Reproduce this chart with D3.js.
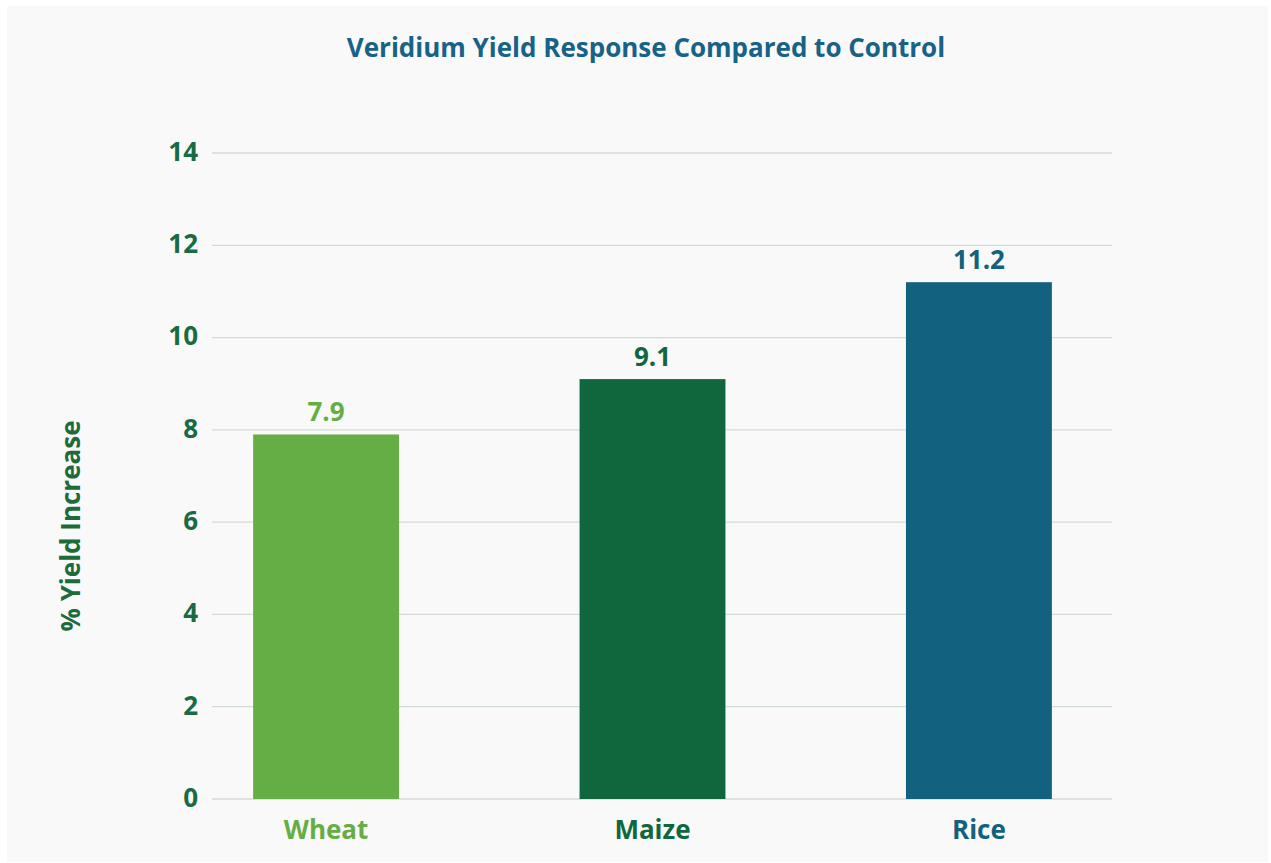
<!doctype html>
<html>
<head>
<meta charset="utf-8">
<script src="https://d3js.org/d3.v7.min.js"></script>
<style>
  body { margin: 0; background: #ffffff; }
  text { font-family: "Open Sans", Lato, sans-serif; font-weight: 700; }
</style>
</head>
<body>
<svg width="1271" height="863"></svg>
<script>
// data
var crops = ["Wheat", "Maize", "Rice"];
var yieldIncrease = [7.9, 9.1, 11.2];
var barColors = ["#64ae45", "#11673d", "#11617f"];
var yTicks = [0, 2, 4, 6, 8, 10, 12, 14];

var svg = d3.select("svg");

// light panel
svg.append("rect")
  .attr("x", 7).attr("y", 6)
  .attr("width", 1261).attr("height", 856)
  .attr("fill", "#f9f9f9");

var plotLeft = 212, plotRight = 1112, plotTop = 153, plotBottom = 799;

var x = d3.scaleBand()
  .domain(crops)
  .range([plotLeft, 1093])
  .paddingInner(0.553)
  .paddingOuter(0.126);

var y = d3.scaleLinear()
  .domain([0, 14])
  .range([plotBottom, plotTop]);

// gridlines
svg.append("g")
  .selectAll("line")
  .data(yTicks)
  .enter()
  .append("line")
  .attr("x1", plotLeft).attr("x2", plotRight)
  .attr("y1", function(d) { return y(d); })
  .attr("y2", function(d) { return y(d); })
  .attr("stroke", "#d3dcd4")
  .attr("stroke-width", 1.3);

// y tick labels
svg.append("g")
  .selectAll("text")
  .data(yTicks)
  .enter()
  .append("text")
  .attr("x", 198)
  .attr("y", function(d) { return y(d); })
  .attr("dy", "0.3em")
  .attr("text-anchor", "end")
  .attr("font-size", 26)
  .attr("font-weight", 600)
  .attr("fill", "#186b43")
  .text(function(d) { return d; });

// bars
svg.append("g")
  .selectAll("rect")
  .data(crops)
  .enter()
  .append("rect")
  .attr("x", function(d) { return x(d); })
  .attr("y", function(d, i) { return y(yieldIncrease[i]); })
  .attr("width", x.bandwidth())
  .attr("height", function(d, i) { return plotBottom - y(yieldIncrease[i]); })
  .attr("fill", function(d, i) { return barColors[i]; });

// value labels
svg.append("g")
  .selectAll("text")
  .data(crops)
  .enter()
  .append("text")
  .attr("x", function(d) { return x(d) + x.bandwidth() / 2; })
  .attr("y", function(d, i) { return y(yieldIncrease[i]) - 13; })
  .attr("text-anchor", "middle")
  .attr("font-size", 26)
  .attr("font-weight", 600)
  .attr("fill", function(d, i) { return barColors[i]; })
  .text(function(d, i) { return yieldIncrease[i].toFixed(1); });

// category labels
svg.append("g")
  .selectAll("text")
  .data(crops)
  .enter()
  .append("text")
  .attr("x", function(d) { return x(d) + x.bandwidth() / 2; })
  .attr("y", 839)
  .attr("text-anchor", "middle")
  .attr("font-size", 26)
  .attr("font-weight", 600)
  .attr("fill", function(d, i) { return barColors[i]; })
  .text(function(d) { return d; });

// y axis title
svg.append("text")
  .attr("transform", "translate(80,526) rotate(-90)")
  .attr("text-anchor", "middle")
  .attr("font-size", 26)
  .attr("font-weight", 600)
  .attr("fill", "#1d6b3a")
  .text("% Yield Increase");

// title
svg.append("text")
  .attr("x", 646)
  .attr("y", 57)
  .attr("text-anchor", "middle")
  .attr("font-size", 26)
  .attr("font-weight", 600)
  .attr("fill", "#176286")
  .text("Veridium Yield Response Compared to Control");
</script>
</body>
</html>
